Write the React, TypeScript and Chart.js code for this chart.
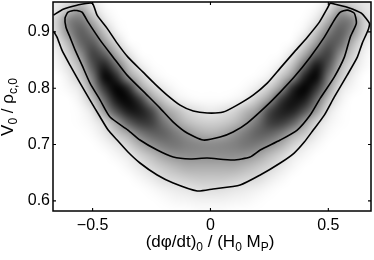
import { useEffect, useRef } from "react";
import { Chart, registerables } from "chart.js";

Chart.register(...registerables);

const FONT = '"Liberation Sans", Arial, sans-serif';

const xTickValues = [-0.5, 0, 0.5];
const yTickValues = [0.6, 0.7, 0.8, 0.9];

// x / y pairs
const outerContourX = [-0.666, -0.625, -0.566, -0.502, -0.481, -0.439, -0.396, -0.35, -0.286, -0.235, -0.184, -0.129, -0.073, -0.014, 0.054, 0.113, 0.181, 0.241, 0.296, 0.355, 0.411, 0.462, 0.496, 0.508, 0.53, 0.58, 0.64, 0.674, 0.67, 0.644, 0.623, 0.58, 0.525, 0.483, 0.436, 0.398, 0.355, 0.296, 0.211, 0.126, 0.011, -0.056, -0.158, -0.226, -0.299, -0.35, -0.396, -0.434, -0.468, -0.511, -0.553, -0.596, -0.63, -0.651, -0.666];
const outerContourY = [0.9296, 0.9402, 0.9473, 0.9509, 0.9296, 0.9066, 0.88, 0.8551, 0.8285, 0.8073, 0.7878, 0.77, 0.7594, 0.7559, 0.7576, 0.77, 0.7878, 0.809, 0.8356, 0.864, 0.8906, 0.9172, 0.942, 0.9509, 0.9491, 0.9438, 0.9332, 0.9154, 0.9048, 0.88, 0.8551, 0.8232, 0.7842, 0.7523, 0.7257, 0.7044, 0.6849, 0.6672, 0.6459, 0.6282, 0.6211, 0.6175, 0.6317, 0.6459, 0.6672, 0.6867, 0.708, 0.7257, 0.7488, 0.7789, 0.809, 0.841, 0.8676, 0.8906, 0.9012];
const innerContourX = [-0.574, -0.545, -0.519, -0.468, -0.413, -0.354, -0.269, -0.214, -0.158, -0.099, -0.031, 0.041, 0.096, 0.156, 0.241, 0.296, 0.355, 0.423, 0.483, 0.525, 0.551, 0.58, 0.61, 0.619, 0.593, 0.568, 0.525, 0.466, 0.423, 0.368, 0.296, 0.211, 0.168, 0.096, -0.014, -0.086, -0.158, -0.226, -0.299, -0.35, -0.426, -0.468, -0.511, -0.545, -0.574, -0.596, -0.613, -0.617, -0.604, -0.574];
const innerContourY = [0.9385, 0.9349, 0.9172, 0.8853, 0.8551, 0.8232, 0.7878, 0.7647, 0.7399, 0.7204, 0.708, 0.7133, 0.7222, 0.7381, 0.77, 0.7931, 0.8197, 0.8551, 0.8906, 0.9207, 0.9349, 0.9385, 0.9332, 0.9154, 0.8906, 0.8551, 0.8197, 0.7824, 0.7523, 0.7257, 0.708, 0.6902, 0.6778, 0.6725, 0.676, 0.6743, 0.6778, 0.6902, 0.708, 0.7257, 0.7488, 0.7789, 0.809, 0.841, 0.8676, 0.8906, 0.9083, 0.9243, 0.9349, 0.9385];

const gridX = [-0.7, -0.65, -0.6, -0.55, -0.5, -0.45, -0.4, -0.35, -0.3, -0.25, -0.2, -0.15, -0.1, -0.05, 0, 0.05, 0.1, 0.15, 0.2, 0.25, 0.3, 0.35, 0.4, 0.45, 0.5, 0.55, 0.6, 0.65, 0.7];
const gridY = [0.96, 0.94, 0.92, 0.9, 0.88, 0.86, 0.84, 0.82, 0.8, 0.78, 0.76, 0.74, 0.72, 0.7, 0.68, 0.66, 0.64, 0.62, 0.6, 0.58];
// darkness 0 (white) .. 100 (black), one row per gridY
const density = [
  [8, 8, 10, 12, 8, 0, 0, 0, 0, 0, 0, 0, 0, 0, 0, 0, 0, 0, 0, 0, 0, 0, 0, 0, 6, 12, 12, 10, 10],
  [6, 9, 24, 36, 14, 3, 0, 0, 0, 0, 0, 0, 0, 0, 0, 0, 0, 0, 0, 0, 0, 0, 0, 3, 14, 36, 24, 12, 8],
  [8, 20, 50, 54, 32, 10, 1, 0, 0, 0, 0, 0, 0, 0, 0, 0, 0, 0, 0, 0, 0, 0, 1, 10, 32, 54, 50, 20, 8],
  [6, 18, 46, 64, 50, 24, 5, 0, 0, 0, 0, 0, 0, 0, 0, 0, 0, 0, 0, 0, 0, 0, 5, 24, 50, 64, 46, 18, 6],
  [2, 10, 30, 60, 66, 40, 17, 2, 0, 0, 0, 0, 0, 0, 0, 0, 0, 0, 0, 0, 0, 2, 17, 40, 66, 60, 30, 10, 2],
  [0, 5, 20, 44, 75, 64, 34, 12, 1, 0, 0, 0, 0, 0, 0, 0, 0, 0, 0, 0, 1, 12, 34, 64, 75, 44, 20, 5, 0],
  [0, 3, 13, 30, 68, 88, 58, 26, 8, 1, 0, 0, 0, 0, 0, 0, 0, 0, 0, 1, 8, 26, 60, 92, 68, 30, 13, 3, 0],
  [0, 0, 7, 22, 52, 98, 85, 42, 22, 6, 1, 0, 0, 0, 0, 0, 0, 0, 1, 6, 22, 44, 88, 98, 52, 22, 7, 0, 0],
  [0, 0, 3, 11, 40, 80, 100, 85, 40, 20, 8, 2, 0, 0, 0, 0, 0, 2, 8, 20, 42, 85, 100, 80, 40, 11, 3, 0, 0],
  [0, 0, 0, 6, 24, 58, 92, 98, 78, 40, 22, 8, 3, 1, 1, 1, 3, 8, 22, 40, 78, 94, 90, 58, 24, 6, 0, 0, 0],
  [0, 0, 0, 2, 11, 40, 70, 90, 90, 72, 40, 28, 16, 11, 8, 11, 16, 28, 40, 72, 88, 88, 68, 40, 11, 2, 0, 0, 0],
  [0, 0, 0, 1, 5, 16, 38, 64, 78, 76, 55, 38, 26, 20, 18, 20, 26, 38, 55, 76, 78, 64, 38, 16, 5, 1, 0, 0, 0],
  [0, 0, 0, 0, 2, 9, 22, 34, 52, 62, 62, 52, 42, 33, 30, 33, 42, 52, 62, 62, 52, 34, 22, 9, 2, 0, 0, 0, 0],
  [0, 0, 0, 0, 0, 3, 9, 18, 32, 44, 52, 54, 50, 47, 46, 47, 50, 54, 52, 44, 32, 18, 9, 3, 0, 0, 0, 0, 0],
  [0, 0, 0, 0, 0, 0, 3, 8, 17, 26, 36, 42, 44, 44, 44, 44, 44, 42, 36, 26, 17, 8, 3, 0, 0, 0, 0, 0, 0],
  [0, 0, 0, 0, 0, 0, 0, 3, 9, 16, 22, 28, 32, 32, 32, 32, 32, 28, 22, 16, 9, 3, 0, 0, 0, 0, 0, 0, 0],
  [0, 0, 0, 0, 0, 0, 0, 0, 3, 8, 14, 17, 20, 22, 22, 22, 20, 17, 14, 8, 3, 0, 0, 0, 0, 0, 0, 0, 0],
  [0, 0, 0, 0, 0, 0, 0, 0, 0, 2, 5, 8, 10, 12, 13, 12, 10, 8, 5, 2, 0, 0, 0, 0, 0, 0, 0, 0, 0],
  [0, 0, 0, 0, 0, 0, 0, 0, 0, 0, 1, 3, 4, 5, 5, 5, 4, 3, 1, 0, 0, 0, 0, 0, 0, 0, 0, 0, 0],
  [0, 0, 0, 0, 0, 0, 0, 0, 0, 0, 0, 0, 0, 1, 1, 1, 0, 0, 0, 0, 0, 0, 0, 0, 0, 0, 0, 0, 0],
];

const xTitleRuns: [string, boolean][] = [["(dφ/dt)", false], ["0", true], [" / (H", false], ["0", true], [" M", false], ["P", true], [")", false]];
const yTitleRuns: [string, boolean][] = [["V", false], ["0", true], [" / ρ", false], ["c,0", true]];

const toPoints = (xs: number[], ys: number[]) => xs.map((x, i) => ({ x, y: ys[i] }));

const densityPlugin = {
  id: "densityImage",
  beforeDatasetsDraw(chart: any) {
    const { ctx, scales, chartArea: a } = chart;
    const off = document.createElement("canvas");
    off.width = gridX.length;
    off.height = gridY.length;
    const oc = off.getContext("2d")!;
    const img = oc.createImageData(off.width, off.height);
    density.forEach((row, j) =>
      row.forEach((d, i) => {
        const g = Math.round(255 * (1 - d / 100));
        const k = (j * off.width + i) * 4;
        img.data[k] = img.data[k + 1] = img.data[k + 2] = g;
        img.data[k + 3] = 255;
      })
    );
    oc.putImageData(img, 0, 0);
    const dx = (gridX[1] - gridX[0]) / 2;
    const dy = (gridY[0] - gridY[1]) / 2;
    const x0 = scales.x.getPixelForValue(gridX[0] - dx);
    const x1 = scales.x.getPixelForValue(gridX[gridX.length - 1] + dx);
    const y0 = scales.y.getPixelForValue(gridY[0] + dy);
    const y1 = scales.y.getPixelForValue(gridY[gridY.length - 1] - dy);
    ctx.save();
    ctx.beginPath();
    ctx.rect(a.left, a.top, a.right - a.left, a.bottom - a.top);
    ctx.clip();
    ctx.imageSmoothingEnabled = true;
    ctx.imageSmoothingQuality = "high";
    ctx.drawImage(off, x0, y0, x1 - x0, y1 - y0);
    ctx.restore();
  },
};

function drawRuns(ctx: CanvasRenderingContext2D, runs: [string, boolean][], size: number, subSize: number, subDrop: number) {
  const widths = runs.map(([t, sub]) => {
    ctx.font = `${sub ? subSize : size}px ${FONT}`;
    return ctx.measureText(t).width;
  });
  let x = -widths.reduce((s, w) => s + w, 0) / 2;
  runs.forEach(([t, sub], i) => {
    ctx.font = `${sub ? subSize : size}px ${FONT}`;
    ctx.fillText(t, x, sub ? subDrop : 0);
    x += widths[i];
  });
}

const framePlugin = {
  id: "frameAndTitles",
  afterDatasetsDraw(chart: any) {
    const { ctx, scales, chartArea: a } = chart;
    ctx.save();
    ctx.strokeStyle = "#000";
    ctx.lineWidth = 1.1;
    const tick = 3;
    ctx.beginPath();
    scales.x.ticks.forEach((t: any) => {
      const p = scales.x.getPixelForValue(t.value);
      ctx.moveTo(p, a.bottom);
      ctx.lineTo(p, a.bottom - tick);
      ctx.moveTo(p, a.top);
      ctx.lineTo(p, a.top + tick);
    });
    scales.y.ticks.forEach((t: any) => {
      const p = scales.y.getPixelForValue(t.value);
      ctx.moveTo(a.left, p);
      ctx.lineTo(a.left + tick, p);
      ctx.moveTo(a.right, p);
      ctx.lineTo(a.right - tick, p);
    });
    ctx.stroke();
    ctx.lineWidth = 1.5;
    ctx.strokeRect(a.left, a.top, a.right - a.left, a.bottom - a.top);

    ctx.fillStyle = "#000";
    ctx.textAlign = "left";
    ctx.textBaseline = "alphabetic";
    ctx.save();
    ctx.translate(210, 247);
    drawRuns(ctx, xTitleRuns, 17, 12, 4);
    ctx.restore();
    ctx.save();
    ctx.translate(13, 107);
    ctx.rotate(-Math.PI / 2);
    drawRuns(ctx, yTitleRuns, 17, 12, 4);
    ctx.restore();
    ctx.restore();
  },
};

const fmt = (v: number) => {
  if (v === 0) return "0";
  const s = Math.abs(v).toFixed(1);
  return v < 0 ? "\u2212" + s : s;
};

export default function App() {
  const ref = useRef<HTMLCanvasElement>(null);
  useEffect(() => {
    document.body.style.margin = "0";
    const chart = new Chart(ref.current!, {
      type: "scatter",
      data: {
        datasets: [
          { label: "outer contour", data: toPoints(outerContourX, outerContourY), showLine: true, borderColor: "#000", borderWidth: 1.6, pointRadius: 0, tension: 0.2, fill: false },
          { label: "inner contour", data: toPoints(innerContourX, innerContourY), showLine: true, borderColor: "#000", borderWidth: 1.6, pointRadius: 0, tension: 0.2, fill: false },
        ],
      },
      options: {
        responsive: false,
        animation: false,
        layout: { padding: { top: 2, right: 3, left: 0, bottom: 0 } },
        plugins: { legend: { display: false }, tooltip: { enabled: false } },
        scales: {
          x: {
            type: "linear",
            min: -0.668,
            max: 0.681,
            grid: { display: false, drawTicks: false },
            border: { display: false },
            afterBuildTicks: (s: any) => { s.ticks = xTickValues.map((value) => ({ value })); },
            afterFit: (s: any) => { s.height = 49; s.paddingLeft = 0; s.paddingRight = 0; },
            ticks: { color: "#000", font: { family: FONT, size: 16 }, padding: 5, maxRotation: 0, autoSkip: false, callback: (v: any) => fmt(Number(v)) },
          },
          y: {
            type: "linear",
            min: 0.582,
            max: 0.953,
            grid: { display: false, drawTicks: false },
            border: { display: false },
            afterBuildTicks: (s: any) => { s.ticks = yTickValues.map((value) => ({ value })); },
            afterFit: (s: any) => { s.width = 53; s.paddingTop = 0; s.paddingBottom = 0; },
            ticks: { color: "#000", font: { family: FONT, size: 16 }, padding: 3, autoSkip: false, callback: (v: any) => fmt(Number(v)) },
          },
        },
      },
      plugins: [densityPlugin, framePlugin],
    } as any);
    return () => chart.destroy();
  }, []);
  return <canvas ref={ref} width={374} height={260} style={{ display: "block", width: 374, height: 260 }} />;
}
